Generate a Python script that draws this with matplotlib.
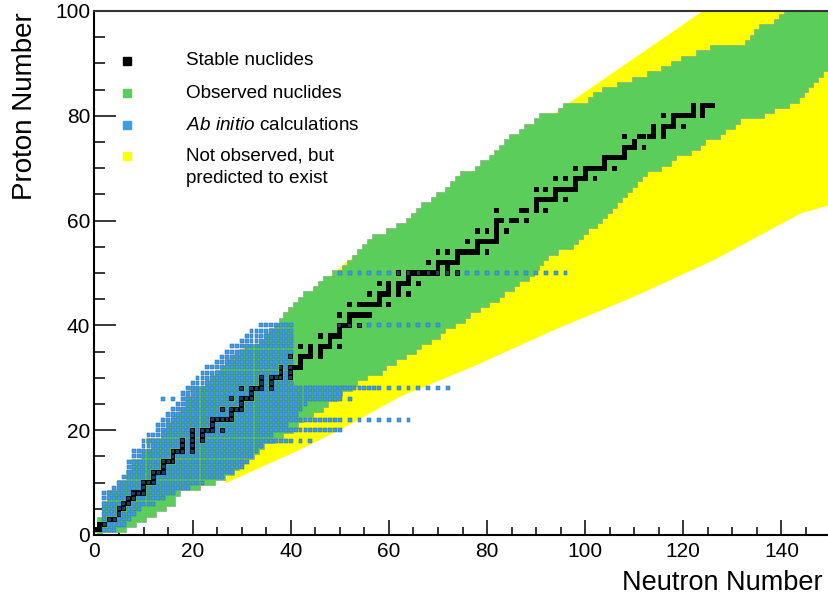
import numpy as np
import matplotlib
matplotlib.use("Agg")
import matplotlib.pyplot as plt
from matplotlib.ticker import MultipleLocator

# ---------------- data ----------------
# observed nuclides: lowest / highest neutron number for each Z = 0..100
obs_z = list(range(0, 101))
obs_nmin = [1, 0, 1, 1, 2, 2, 2, 3, 3, 5,
            5, 7, 7, 8, 8, 10, 10, 12, 11, 14,
            14, 15, 16, 17, 18, 19, 19, 21, 20, 23,
            24, 25, 26, 27, 29, 30, 31, 34, 35, 36,
            37, 38, 39, 40, 41, 42, 43, 45, 46, 47,
            49, 51, 52, 53, 54, 55, 56, 57, 60, 62,
            64, 65, 66, 67, 69, 70, 72, 73, 74, 75,
            78, 79, 81, 82, 83, 84, 85, 87, 88, 90,
            91, 95, 96, 101, 102, 104, 107, 110, 113, 116,
            118, 120, 123, 126, 133, 134, 135, 136, 139, 140,
            141]
obs_nmax = [1, 6, 8, 10, 12, 14, 16, 16, 17, 21,
            24, 26, 28, 29, 30, 32, 33, 34, 36, 38,
            40, 41, 42, 44, 46, 47, 49, 50, 52, 53,
            55, 58, 59, 61, 63, 65, 66, 68, 70, 71,
            73, 75, 76, 78, 80, 82, 83, 85, 86, 88,
            89, 90, 91, 92, 94, 97, 98, 99, 100, 102,
            103, 104, 105, 106, 107, 108, 109, 110, 111, 112,
            115, 117, 118, 121, 123, 124, 127, 128, 130, 131,
            136, 138, 141, 143, 144, 145, 146, 147, 148, 150,
            155, 155, 155, 155, 155, 155, 155, 155, 155, 155,
            155]

# predicted (not observed) region outline, (N, Z) corner points
pred_n = [26.5, 40, 51.5, 63.4, 95.7, 124, 156, 156,
          150, 144, 126.3, 110, 93.6, 77.3, 62.3, 50.1, 41.9]
pred_z = [9.8, 43, 52.2, 59.5, 81.8, 100, 100, 64.3,
          63, 61.4, 52.5, 45.5, 39.1, 32.2, 26.4, 20.1, 16.3]

# ab initio calculations: dense block, N range for each Z = 1..40
abi_z = list(range(1, 41))
abi_nmin = [2, 2, 2, 2, 2, 2, 2, 2, 4, 5,
            6, 7, 7, 7, 8, 8, 10, 10, 11, 13,
            13, 14, 15, 16, 17, 18, 18, 19, 20, 21,
            22, 23, 25, 26, 27, 28, 30, 31, 32, 34]
abi_nmax = [4, 6, 7, 8, 9, 12, 14, 16, 19, 22,
            26, 28, 30, 31, 32, 33, 34, 40, 36, 50,
            39, 50, 41, 42, 43, 50, 50, 58, 40, 40,
            40, 40, 40, 40, 40, 40, 40, 40, 40, 40]
# single ab initio isotope chains outside the block
abi_extra_z = [18, 18,
               22, 22, 22, 22, 22, 22, 22,
               26, 26, 26,
               28, 28, 28, 28, 28, 28, 28,
               40, 40, 40, 40, 40, 40, 40, 40, 40, 40, 40,
               50, 50, 50, 50, 50, 50, 50, 50, 50, 50, 50, 50,
               50, 50, 50, 50, 50, 50, 50, 50, 50, 50, 50, 50]
abi_extra_n = [42, 44,
               52, 54, 56, 58, 60, 62, 64,
               14, 16, 52,
               60, 62, 64, 66, 68, 70, 72,
               50, 52, 54, 56, 58, 60, 62, 64, 66, 68, 70,
               50, 52, 54, 56, 58, 60, 62, 64, 66, 68, 70, 72,
               74, 76, 78, 80, 82, 84, 86, 88, 90, 92, 94, 96]

# stable nuclides (Z, N)
stable_z = [1, 1, 2, 2, 3, 3, 4, 5, 5, 6, 6, 7, 7, 8, 8, 8, 9, 10, 10, 10,
            11, 12, 12, 12, 13, 14, 14, 14, 15, 16, 16, 16, 16, 17, 17,
            18, 18, 18, 19, 19, 20, 20, 20, 20, 20, 21, 22, 22, 22, 22, 22,
            23, 24, 24, 24, 24, 25, 26, 26, 26, 26, 27, 28, 28, 28, 28, 28,
            29, 29, 30, 30, 30, 30, 30, 31, 31, 32, 32, 32, 32, 33,
            34, 34, 34, 34, 34, 35, 35, 36, 36, 36, 36, 36, 36, 37,
            38, 38, 38, 38, 39, 40, 40, 40, 40, 41,
            42, 42, 42, 42, 42, 42, 44, 44, 44, 44, 44, 44, 44, 45,
            46, 46, 46, 46, 46, 46, 47, 47, 48, 48, 48, 48, 48, 48, 49,
            50, 50, 50, 50, 50, 50, 50, 50, 50, 50, 51, 51,
            52, 52, 52, 52, 52, 52, 53, 54, 54, 54, 54, 54, 54, 54, 54, 55,
            56, 56, 56, 56, 56, 56, 57, 58, 58, 58, 58, 59,
            60, 60, 60, 60, 60, 62, 62, 62, 62, 62, 63,
            64, 64, 64, 64, 64, 64, 65, 66, 66, 66, 66, 66, 66, 66, 67,
            68, 68, 68, 68, 68, 68, 69, 70, 70, 70, 70, 70, 70, 70, 71,
            72, 72, 72, 72, 72, 73, 74, 74, 74, 74, 75,
            76, 76, 76, 76, 76, 76, 77, 77, 78, 78, 78, 78, 78, 79,
            80, 80, 80, 80, 80, 80, 80, 81, 81, 82, 82, 82, 82]
stable_n = [0, 1, 1, 2, 3, 4, 5, 5, 6, 6, 7, 7, 8, 8, 9, 10, 10, 10, 11, 12,
            12, 12, 13, 14, 14, 14, 15, 16, 16, 16, 17, 18, 20, 18, 20,
            18, 20, 22, 20, 22, 20, 22, 23, 24, 26, 24, 24, 25, 26, 27, 28,
            28, 26, 28, 29, 30, 30, 28, 30, 31, 32, 32, 30, 32, 33, 34, 36,
            34, 36, 34, 36, 37, 38, 40, 38, 40, 38, 40, 41, 42, 42,
            40, 42, 43, 44, 46, 44, 46, 42, 44, 46, 47, 48, 50, 48,
            46, 48, 49, 50, 50, 50, 51, 52, 54, 52,
            50, 52, 53, 54, 55, 56, 52, 54, 55, 56, 57, 58, 60, 58,
            56, 58, 59, 60, 62, 64, 60, 62, 58, 60, 62, 63, 64, 66, 64,
            62, 64, 65, 66, 67, 68, 69, 70, 72, 74, 70, 72,
            68, 70, 71, 72, 73, 74, 74, 70, 72, 74, 75, 76, 77, 78, 80, 78,
            76, 78, 79, 80, 81, 82, 82, 78, 80, 82, 84, 82,
            82, 83, 85, 86, 88, 82, 87, 88, 90, 92, 90,
            90, 91, 92, 93, 94, 96, 94, 90, 92, 94, 95, 96, 97, 98, 98,
            94, 96, 98, 99, 100, 102, 100, 98, 100, 101, 102, 103, 104, 106, 104,
            104, 105, 106, 107, 108, 108, 108, 109, 110, 112, 110,
            108, 111, 112, 113, 114, 116, 114, 116, 114, 116, 117, 118, 120, 118,
            116, 118, 119, 120, 121, 122, 124, 122, 124, 122, 124, 125, 126]

legend_labels = ["Stable nuclides", "Observed nuclides",
                 r"$\mathit{Ab\ initio}$ calculations",
                 "Not observed, but", "predicted to exist"]

GREEN = "#5bcd5b"
BLUE = "#3d9bec"
YELLOW = "#ffff00"

plt.rcParams["font.family"] = ["Liberation Sans", "DejaVu Sans"]
plt.rcParams["mathtext.fontset"] = "custom"
plt.rcParams["mathtext.it"] = "Liberation Sans:italic"
plt.rcParams["mathtext.rm"] = "Liberation Sans"

fig = plt.figure(figsize=(8.29, 5.97), dpi=100)
ax = fig.add_axes([94.5 / 829, 1 - 535 / 597, 736 / 829, 524 / 597])

# predicted region (drawn first, covered by observed nuclides)
ax.fill(pred_n, pred_z, color=YELLOW, lw=0, zorder=1)

# observed nuclides as a staircase band, one row per Z
z = np.array(obs_z)
rows_y = np.column_stack([z - 0.5, z + 0.5]).ravel()
rows_lo = np.repeat(np.array(obs_nmin) - 0.5, 2)
rows_hi = np.repeat(np.array(obs_nmax) + 0.5, 2)
ax.fill_betweenx(rows_y, rows_lo, rows_hi, facecolor=GREEN,
                 edgecolor="#8fae7f", lw=0.5, zorder=2)

# stable nuclides
sz = np.array(stable_z)
sn = np.array(stable_n)
ax.bar(sn, 1.0, width=1.0, bottom=sz - 0.5, color="black", lw=0, zorder=3)

# ab initio cells
abi_cells = set()
for zz, lo, hi in zip(abi_z, abi_nmin, abi_nmax):
    for nn in range(lo, hi + 1):
        abi_cells.add((nn, zz))
for nn, zz in zip(abi_extra_n, abi_extra_z):
    abi_cells.add((nn, zz))
stable_set = set(zip(stable_n, stable_z))
plain = sorted(c for c in abi_cells if c not in stable_set)
on_stable = sorted(c for c in abi_cells if c in stable_set)
pn = np.array([c[0] for c in plain])
pz = np.array([c[1] for c in plain])
ax.bar(pn, 0.78, width=0.78, bottom=pz - 0.39, color=BLUE,
       edgecolor="#2d6a9e", lw=0.35, zorder=4)
qn = np.array([c[0] for c in on_stable])
qz = np.array([c[1] for c in on_stable])
ax.bar(qn, 0.6, width=0.6, bottom=qz - 0.3, color="#1d3c5e", lw=0, zorder=5)

ax.set_xlim(0, 150)
ax.set_ylim(0, 100)

# legend drawn by hand, ROOT style (last entry spans two lines)
leg_colors = ["black", GREEN, BLUE, YELLOW]
leg_y = [0.9046, 0.8435, 0.7824, 0.7233, 0.6794]
for col, yy in zip(leg_colors, leg_y):
    ax.plot([0.0442], [yy], marker="s", ms=6, color=col, mec=col,
            transform=ax.transAxes, zorder=10, clip_on=False)
for lab, yy in zip(legend_labels, leg_y):
    ax.text(0.1245, yy, lab, transform=ax.transAxes, fontsize=13.6,
            va="center", ha="left", zorder=10)

# axes and ticks
ax.xaxis.set_major_locator(MultipleLocator(20))
ax.xaxis.set_minor_locator(MultipleLocator(5))
ax.yaxis.set_major_locator(MultipleLocator(20))
ax.yaxis.set_minor_locator(MultipleLocator(5))
ax.tick_params(axis="x", which="major", direction="in", length=11, width=1.1)
ax.tick_params(axis="x", which="minor", direction="in", length=5.5, width=1.1)
ax.tick_params(axis="y", which="major", direction="in", length=16, width=1.1)
ax.tick_params(axis="y", which="minor", direction="in", length=8, width=1.1)
ax.tick_params(axis="both", which="both", top=False, right=False, zorder=20)
ax.tick_params(axis="x", pad=5)
ax.tick_params(axis="y", pad=3)
for lbl in ax.get_xticklabels() + ax.get_yticklabels():
    lbl.set_fontsize(15)

for side in ["left", "bottom", "top"]:
    ax.spines[side].set_linewidth(1.5)
    ax.spines[side].set_zorder(20)
ax.spines["top"].set_color("#333333")
ax.spines["right"].set_visible(False)

ax.set_xlabel("Neutron Number", fontsize=19.5, loc="right")
ax.xaxis.set_label_coords(0.9898, -0.066)
ax.set_ylabel("Proton Number", fontsize=20, loc="top")
ax.yaxis.set_label_coords(-0.077, 0.998)

fig.savefig("out.png", dpi=100)
